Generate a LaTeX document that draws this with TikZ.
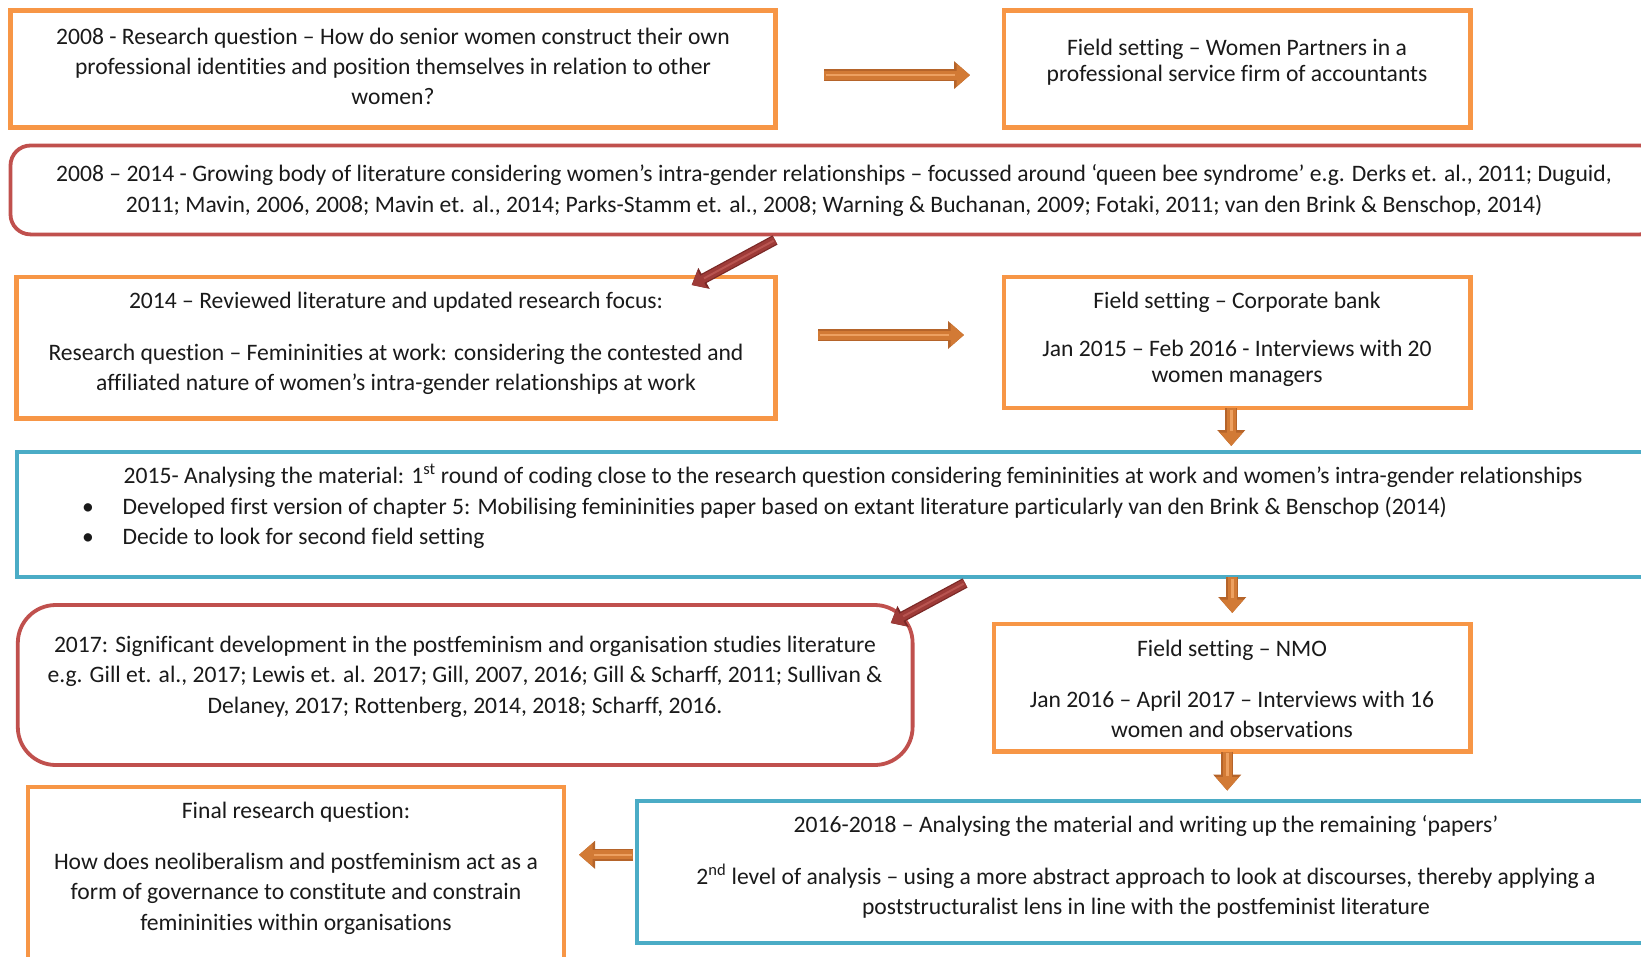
\documentclass[tikz,border=0pt]{standalone}
\usepackage{fontspec}
\setmainfont{Carlito}[Ligatures={TeX,NoCommon}]
\usetikzlibrary{arrows.meta,calc}
\definecolor{bOrange}{HTML}{F79646}
\definecolor{bRed}{HTML}{C0504D}
\definecolor{bBlue}{HTML}{4BACC6}
\definecolor{aDark}{HTML}{B5642A}
\definecolor{aMid}{HTML}{D27A35}
\definecolor{aLight}{HTML}{EDA060}
\definecolor{rDark}{HTML}{7A2826}
\definecolor{rMid}{HTML}{9E3B38}
\definecolor{rLight}{HTML}{B85450}
\definecolor{txt}{HTML}{1A1A1A}
\begin{document}
\begin{tikzpicture}[x=1pt,y=-1pt,
  box/.style={draw, line width=4.5pt, inner sep=0pt, outer sep=0pt, anchor=north west, fill=white},
  obox/.style={box, draw=bOrange},
  rbox/.style={box, draw=bRed, line width=3.8pt, rounded corners=#1},
  bbox/.style={box, draw=bBlue, line width=4.2pt},
  tnode/.style={inner sep=0pt, anchor=north, align=center, text=txt, font=\fontsize{23.6}{30.4}\selectfont},
  oarrow/.style 2 args={line width=9pt, draw=aMid, shorten <=#1, shorten >=#2,
    -{Triangle[length=13.5pt,width=22pt]},
    preaction={draw=aDark, line width=12pt, -{Triangle[length=16pt,width=27pt]}},
    postaction={draw=aLight, line width=2.5pt, -, shorten <=#1+1.5pt, shorten >=#2+15pt}},
  rarrow/.style 2 args={line width=8pt, draw=rMid, shorten <=#1, shorten >=#2,
    -{Triangle[length=12pt,width=19pt]},
    preaction={draw=rDark, line width=10.5pt, -{Triangle[length=14pt,width=23pt]}},
    postaction={draw=rLight, line width=2pt, -, shorten <=#1+1.5pt, shorten >=#2+14pt}}
]
\useasboundingbox (0,0) rectangle (1641,956);
\clip (0,0) rectangle (1641,956);

% boxes
\node[obox, minimum width=765pt, minimum height=117.2pt] (b1) at (10.5,10.5) {};
\node[obox, minimum width=466.5pt, minimum height=117.2pt] (b2) at (1004,10.5) {};
\node[rbox=20pt, minimum width=1649.5pt, minimum height=88.9pt] (b3) at (10.5,145.5) {};
\node[obox, minimum width=758.8pt, minimum height=141.6pt] (b4) at (16.7,277) {};
\node[obox, minimum width=466.5pt, minimum height=131pt] (b5) at (1004,277) {};
\node[bbox, minimum width=1648pt, minimum height=125pt] (b6) at (16.7,452) {};
\node[rbox=38pt, minimum width=894.8pt, minimum height=160pt] (b7) at (17.8,605) {};
\node[obox, minimum width=476.5pt, minimum height=127.5pt] (b8) at (994,624) {};
\node[obox, minimum width=536pt, minimum height=200pt] (b9) at (28,787) {};
\node[bbox, minimum width=1028pt, minimum height=142.4pt] (b10) at (637,800.6) {};

% texts
\node[tnode] (t1) at (393,27.6) {2008 - Research question – How do senior women construct their own\\professional identities and position themselves in relation to other\\women?};
\node[tnode, font=\fontsize{23.6}{26}\selectfont] (t2) at (1237,39) {Field setting – Women Partners in a\\professional service firm of accountants};
\node[tnode] (t3) at (834,164.7) {2008 – 2014 - Growing body of literature considering women’s intra-gender relationships – focussed around ‘queen bee syndrome’ e.g. Derks et. al., 2011; Duguid,\\2011; Mavin, 2006, 2008; Mavin et. al., 2014; Parks-Stamm et. al., 2008; Warning \& Buchanan, 2009; Fotaki, 2011; van den Brink \& Benschop, 2014)};
\node[tnode] (t4) at (396,292) {2014 – Reviewed literature and updated research focus:\\[21.3pt]Research question – Femininities at work: considering the contested and\\affiliated nature of women’s intra-gender relationships at work};
\node[tnode, font=\fontsize{23.6}{26}\selectfont] (t5) at (1237,292) {Field setting – Corporate bank\\[21.5pt]Jan 2015 – Feb 2016 - Interviews with 20\\women managers};
\node[tnode, anchor=north west, align=left] (t6) at (81,464) {\hspace*{42.5pt}2015- Analysing the material: 1\textsuperscript{st} round of coding close to the research question considering femininities at work and women’s intra-gender relationships\\\makebox[41.5pt][l]{\hspace*{1pt}•}Developed first version of chapter 5: Mobilising femininities paper based on extant literature particularly van den Brink \& Benschop (2014)\\\makebox[41.5pt][l]{\hspace*{1pt}•}Decide to look for second field setting};
\node[tnode] (t7) at (465,635.7) {2017: Significant development in the postfeminism and organisation studies literature\\e.g. Gill et. al., 2017; Lewis et. al. 2017; Gill, 2007, 2016; Gill \& Scharff, 2011; Sullivan \&\\Delaney, 2017; Rottenberg, 2014, 2018; Scharff, 2016.};
\node[tnode] (t8) at (1232,640) {Field setting – NMO\\[20.6pt]Jan 2016 – April 2017 – Interviews with 16\\women and observations};
\node[tnode] (t9) at (296,802) {Final research question:\\[20.6pt]How does neoliberalism and postfeminism act as a\\form of governance to constitute and constrain\\femininities within organisations};
\node[tnode] (t10) at (1146,815.7) {2016-2018 – Analysing the material and writing up the remaining ‘papers’\\[20.9pt]2\textsuperscript{nd} level of analysis – using a more abstract approach to look at discourses, thereby applying a\\poststructuralist lens in line with the postfeminist literature};

% orange arrows
\draw[oarrow={48.5pt}{34pt}] ([yshift=-6pt]b1.east) -- ([yshift=-6pt]b1.east -| b2.west);
\draw[oarrow={42.5pt}{40pt}] ([yshift=12.8pt]b4.east) -- ([yshift=12.8pt]b4.east -| b5.west);
\draw[oarrow={0pt}{6pt}] ([xshift=-6pt]b5.south) -- ([xshift=-6pt]b5.south |- b6.north);
\draw[oarrow={0pt}{11pt}] (b8.north |- b6.south) -- (b8.north);
\draw[oarrow={0pt}{10pt}] ([xshift=-5pt]b8.south) -- ([xshift=-5pt]b8.south |- b10.north);
\draw[oarrow={4pt}{15pt}] ([yshift=17pt]b10.west) -- ([yshift=17pt]b10.west -| b9.east);

% red arrows
\draw[rarrow={0pt}{0pt}] ($(b3.south west)+(764.5,5.6)$) -- ($(b4.north west)+(675,8)$);
\draw[rarrow={0pt}{0pt}] ($(b6.south west)+(948.3,6)$) -- ($(b7.north west)+(873,18)$);
\end{tikzpicture}
\end{document}
